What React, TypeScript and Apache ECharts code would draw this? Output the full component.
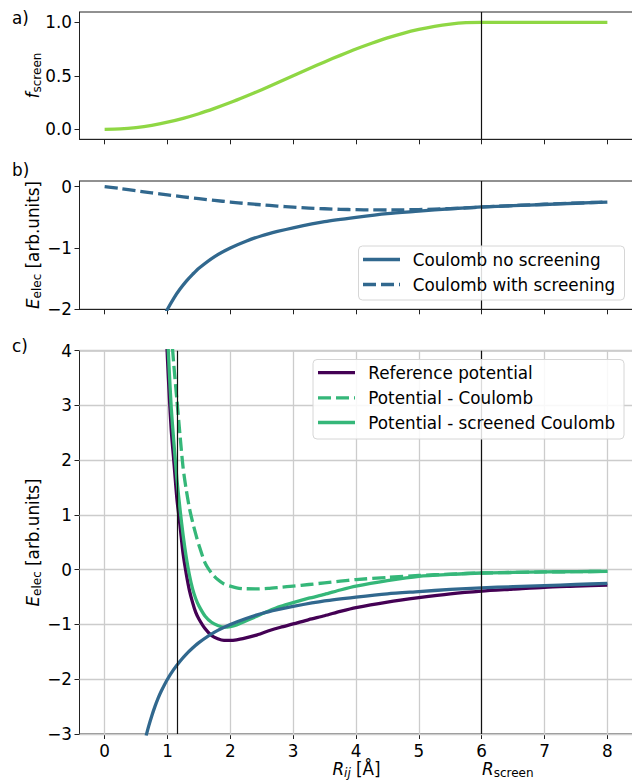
import React, { useEffect, useRef } from "react";
import * as echarts from "echarts";

// ---------- data ----------
const R_AB = [0, 0.25, 0.5, 0.75, 1, 1.25, 1.5, 1.75, 2, 2.25, 2.5, 2.75, 3, 3.25, 3.5, 3.75, 4, 4.25, 4.5, 4.75, 5, 5.25, 5.5, 5.75, 6, 6.25, 6.5, 6.75, 7, 7.25, 7.5, 7.75, 8];
const F_SCREEN = [0, 0.004, 0.017, 0.038, 0.067, 0.103, 0.146, 0.196, 0.25, 0.309, 0.37, 0.435, 0.5, 0.565, 0.63, 0.691, 0.75, 0.804, 0.854, 0.897, 0.933, 0.962, 0.983, 0.996, 1, 1, 1, 1, 1, 1, 1, 1, 1];
const COUL_SCREENED = [0, -0.03, -0.066, -0.1, -0.133, -0.165, -0.195, -0.224, -0.25, -0.275, -0.296, -0.316, -0.333, -0.348, -0.36, -0.369, -0.375, -0.378, -0.38, -0.378, -0.373, -0.366, -0.357, -0.347, -0.333, -0.32, -0.308, -0.296, -0.286, -0.276, -0.267, -0.258, -0.25];

const R_COUL = [0.66, 0.7, 0.75, 0.8, 0.85, 0.9, 1.0, 1.1, 1.2, 1.3, 1.4, 1.5, 1.75, 2.0, 2.25, 2.5, 2.75, 3.0, 3.5, 4.0, 4.5, 5.0, 5.5, 6.0, 6.5, 7.0, 7.5, 8.0];
const COULOMB = [-3.03, -2.86, -2.67, -2.5, -2.35, -2.22, -2.0, -1.82, -1.67, -1.54, -1.43, -1.33, -1.14, -1.0, -0.89, -0.8, -0.73, -0.67, -0.57, -0.5, -0.44, -0.4, -0.36, -0.33, -0.31, -0.29, -0.27, -0.25];

const R_POT = [0.95, 1.0, 1.03, 1.06, 1.1, 1.15, 1.2, 1.25, 1.3, 1.35, 1.4, 1.45, 1.5, 1.6, 1.7, 1.8, 1.9, 2.0, 2.1, 2.2, 2.4, 2.6, 2.8, 3.0, 3.25, 3.5, 3.75, 4.0, 4.5, 5.0, 5.5, 6.0, 6.5, 7.0, 7.5, 8.0];
const REF_POT = [5.2, 3.85, 3.15, 2.55, 2.0, 1.3, 0.8, 0.28, -0.08, -0.38, -0.6, -0.78, -0.9, -1.08, -1.2, -1.26, -1.29, -1.29, -1.28, -1.26, -1.2, -1.12, -1.05, -0.99, -0.91, -0.84, -0.76, -0.69, -0.59, -0.51, -0.44, -0.39, -0.355, -0.32, -0.3, -0.28];
const POT_MINUS_COUL = [7.0, 5.6, 4.9, 4.35, 3.75, 3.1, 2.45, 1.85, 1.45, 1.12, 0.87, 0.65, 0.45, 0.12, -0.06, -0.18, -0.26, -0.3, -0.33, -0.345, -0.35, -0.34, -0.32, -0.3, -0.27, -0.24, -0.21, -0.18, -0.14, -0.105, -0.08, -0.06, -0.05, -0.04, -0.035, -0.03];
const POT_MINUS_SCREENED = [5.6, 4.3, 3.6, 2.95, 2.35, 1.65, 1.1, 0.62, 0.22, -0.1, -0.35, -0.53, -0.66, -0.85, -0.96, -1.02, -1.05, -1.04, -1.01, -0.96, -0.86, -0.76, -0.67, -0.6, -0.52, -0.45, -0.37, -0.3, -0.2, -0.12, -0.085, -0.06, -0.05, -0.04, -0.035, -0.03];

const X_TICKS = [0, 1, 2, 3, 4, 5, 6, 7, 8];
const F_TICKS = [0, 0.5, 1];
const B_TICKS = [-2, -1, 0];
const C_TICKS = [-3, -2, -1, 0, 1, 2, 3, 4];
const R_SCREEN_LINE = [6];
const R_INNER_LINE = [1.15];

const LEGEND_B = ["Coulomb no screening", "Coulomb with screening"];
const LEGEND_C = ["Reference potential", "Potential - Coulomb", "Potential - screened Coulomb"];

// ---------- styling ----------
const FONT = "DejaVu Sans";
const FS = 16.8;
const C_FSCREEN = "#8fd744";
const C_COUL = "#31688e";
const C_REF = "#440154";
const C_GREEN = "#35b779";
const DASH = [13, 5];
const SPINE = "#222";
const LW = 3.3;

const zip = (xs: number[], ys: number[]) => xs.map((x, i) => [x, ys[i]]);
const fmtMinus = (v: number) => (v < 0 ? "\u2212" + Math.abs(v) : String(v));

export default function App() {
  const ref = useRef<HTMLDivElement>(null);

  useEffect(() => {
    if (!ref.current) return;
    const chart = echarts.init(ref.current, null, { renderer: "svg" });

    const L = 79.5;
    const W = 553;
    const grids = [
      { left: L, top: 12, width: W, height: 127.3 },
      { left: L, top: 181, width: W, height: 128.3 },
      { left: L, top: 350.7, width: W, height: 383.3 },
    ].map((g) => ({
      ...g,
      show: true,
      borderColor: SPINE,
      borderWidth: 1,
      backgroundColor: "transparent",
      containLabel: false,
      outerBoundsMode: "none",
    }));

    const xAxisFor = (i: number, labels: boolean) => ({
      type: "value",
      gridIndex: i,
      min: -0.4,
      max: 8.4,
      axisLine: { show: true, onZero: false, lineStyle: { color: SPINE, width: 1 } },
      axisTick: { show: true, customValues: X_TICKS, length: 5, lineStyle: { color: SPINE, width: 1 } },
      axisLabel: {
        show: labels,
        customValues: X_TICKS,
        margin: 8,
        color: "#000",
        fontSize: FS,
        fontFamily: FONT,
        formatter: (v: number) => fmtMinus(v),
      },
      splitLine: { show: false },
    });

    const yAxisFor = (i: number, min: number, max: number, ticks: number[], fmt: (v: number) => string) => ({
      type: "value",
      gridIndex: i,
      min,
      max,
      axisLine: { show: true, onZero: false, lineStyle: { color: SPINE, width: 1 } },
      axisTick: { show: true, customValues: ticks, length: 5, lineStyle: { color: SPINE, width: 1 } },
      axisLabel: {
        show: true,
        customValues: ticks,
        margin: 7.5,
        color: "#000",
        fontSize: FS,
        fontFamily: FONT,
        formatter: fmt,
      },
      splitLine: { show: false },
    });

    const vLines = (xs: number[]) => ({
      silent: true,
      symbol: ["none", "none"],
      label: { show: false },
      emphasis: { disabled: true },
      z: 5,
      lineStyle: { color: "#111", width: 1.2, type: "solid" },
      data: xs.map((v) => ({ xAxis: v })),
    });

    const gridLinesC = {
      silent: true,
      symbol: ["none", "none"],
      label: { show: false },
      emphasis: { disabled: true },
      z: 1,
      lineStyle: { color: "#cccccc", width: 1.3, type: "solid" },
      data: [
        ...X_TICKS.map((v) => ({ xAxis: v })),
        ...C_TICKS.map((v) => ({ yAxis: v })),
      ],
    };

    const lineSeries = (
      name: string,
      xi: number,
      data: number[][],
      color: string,
      dashed: boolean,
      z: number,
      extra: any = {}
    ) => ({
      name,
      type: "line",
      xAxisIndex: xi,
      yAxisIndex: xi,
      data,
      symbol: "none",
      showSymbol: false,
      smooth: 0.25,
      clip: true,
      z,
      lineStyle: { color, width: LW, type: dashed ? DASH : "solid", cap: "butt", join: "round" },
      itemStyle: { color },
      emphasis: { disabled: true },
      ...extra,
    });

    const richLabel = {
      i: { fontFamily: FONT, fontSize: FS, fontStyle: "italic", lineHeight: 20, verticalAlign: "middle" },
      s: { fontFamily: FONT, fontSize: 12, lineHeight: 12, verticalAlign: "bottom" },
      n: { fontFamily: FONT, fontSize: FS, lineHeight: 20, verticalAlign: "middle" },
      si: { fontFamily: FONT, fontSize: 12, fontStyle: "italic", lineHeight: 12, verticalAlign: "bottom" },
    };

    const legendBox = (x: number, y: number, w: number, h: number) => ({
      type: "rect",
      shape: { x, y, width: w, height: h, r: 4 },
      style: { fill: "rgba(255,255,255,0.85)", stroke: "#d6d6d6", lineWidth: 1 },
      z: 100,
    });
    const legendLine = (x1: number, x2: number, y: number, color: string, dashed: boolean) => ({
      type: "line",
      shape: { x1, y1: y, x2, y2: y },
      style: { stroke: color, lineWidth: LW, lineDash: dashed ? DASH : null, lineCap: "butt" },
      z: 101,
    });
    const legendText = (x: number, y: number, text: string) => ({
      type: "text",
      x,
      y,
      style: { text, fill: "#000", fontFamily: FONT, fontSize: FS, align: "left", verticalAlign: "middle" },
      z: 101,
    });
    const plainText = (x: number, y: number, text: string, align = "left") => ({
      type: "text",
      x,
      y,
      style: { text, fill: "#000", fontFamily: FONT, fontSize: FS, align, verticalAlign: "middle" },
      z: 101,
    });
    const yName = (x: number, y: number, text: string) => ({
      type: "text",
      x,
      y,
      rotation: Math.PI / 2,
      style: { text, fill: "#000", align: "center", verticalAlign: "middle", rich: richLabel },
      z: 101,
    });

    const option: any = {
      animation: false,
      backgroundColor: "#ffffff",
      grid: grids,
      xAxis: [xAxisFor(0, false), xAxisFor(1, false), xAxisFor(2, true)],
      yAxis: [
        yAxisFor(0, -0.093, 1.096, F_TICKS, (v: number) => v.toFixed(1)),
        yAxisFor(1, -2, 0.093, B_TICKS, fmtMinus),
        yAxisFor(2, -3, 4, C_TICKS, fmtMinus),
      ],
      series: [
        lineSeries("f_screen", 0, zip(R_AB, F_SCREEN), C_FSCREEN, false, 2, { markLine: vLines(R_SCREEN_LINE) }),
        lineSeries(LEGEND_B[0], 1, zip(R_COUL, COULOMB), C_COUL, false, 2, { markLine: vLines(R_SCREEN_LINE) }),
        lineSeries(LEGEND_B[1], 1, zip(R_AB, COUL_SCREENED), C_COUL, true, 2),
        lineSeries(LEGEND_C[0], 2, zip(R_POT, REF_POT), C_REF, false, 2, { markLine: gridLinesC }),
        lineSeries(LEGEND_C[1], 2, zip(R_POT, POT_MINUS_COUL), C_GREEN, true, 3),
        lineSeries(LEGEND_C[2], 2, zip(R_POT, POT_MINUS_SCREENED), C_GREEN, false, 3),
        lineSeries("Coulomb", 2, zip(R_COUL, COULOMB), C_COUL, false, 4, {
          markLine: vLines([...R_INNER_LINE, ...R_SCREEN_LINE]),
        }),
      ],
      graphic: [
        plainText(12, 18, "a)"),
        plainText(12, 170, "b)"),
        plainText(12, 346, "c)"),
        yName(33, 75.5, "{i|f}{s|screen}"),
        yName(33, 245, "{i|E}{s|elec}{n| [arb.units]}"),
        yName(33, 542.5, "{i|E}{s|elec}{n| [arb.units]}"),
        {
          type: "text",
          x: 356.5,
          y: 769,
          style: { text: "{i|R}{si|ij}{n| [Å]}", fill: "#000", align: "center", verticalAlign: "middle", rich: richLabel },
          z: 101,
        },
        {
          type: "text",
          x: 482,
          y: 769,
          style: { text: "{i|R}{s|screen}", fill: "#000", align: "left", verticalAlign: "middle", rich: richLabel },
          z: 101,
        },
        legendBox(358.5, 246, 266, 54),
        legendLine(363, 400, 259.5, C_COUL, false),
        legendText(412.7, 259.5, LEGEND_B[0]),
        legendLine(363, 400, 284.5, C_COUL, true),
        legendText(412.7, 284.5, LEGEND_B[1]),
        legendBox(313, 359.5, 311, 79.5),
        legendLine(318, 355, 372.7, C_REF, false),
        legendText(368.3, 372.7, LEGEND_C[0]),
        legendLine(318, 355, 397.8, C_GREEN, true),
        legendText(368.3, 397.8, LEGEND_C[1]),
        legendLine(318, 355, 422.5, C_GREEN, false),
        legendText(368.3, 422.5, LEGEND_C[2]),
      ],
    };

    chart.setOption(option);
    return () => chart.dispose();
  }, []);

  return (
    <div
      ref={ref}
      style={{ position: "fixed", left: 0, top: 0, width: 632, height: 783, background: "#fff" }}
    />
  );
}
